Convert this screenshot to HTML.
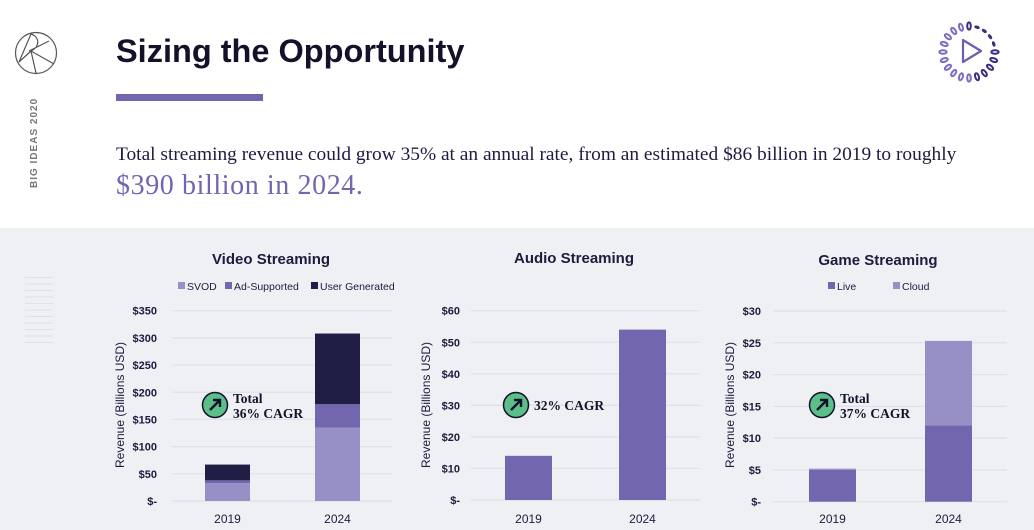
<!DOCTYPE html>
<html><head><meta charset="utf-8"><style>
body{margin:0;width:1034px;height:530px;overflow:hidden;background:#fff;font-family:"Liberation Sans",sans-serif;position:relative}
.a{position:absolute}
</style></head><body>
<div class="a" style="left:0;top:0;width:1034px;height:228px;background:#fff"></div>
<div class="a" style="left:0;top:228px;width:1034px;height:302px;background:#eff0f4"></div>
<svg class="a" style="left:14px;top:31px" width="46" height="46" viewBox="0 0 46 46"><g fill="none" stroke="#555" stroke-width="1.2"><circle cx="22" cy="22" r="20.5"/><path d="M5 31 L17 3 M17 3 C26 6 26 16 17 20 L40 33 M17 20 L22 42 M17 20 L5 31 M15 20 L35 10"/></g></svg>
<div class="a" style="left:29px;top:188px;transform:rotate(-90deg);transform-origin:0 0;font-size:10px;font-weight:bold;letter-spacing:1px;color:#777">BIG IDEAS 2020</div>
<div class="a" style="left:116px;top:33px;font-size:32.5px;font-weight:bold;color:#14122a">Sizing the Opportunity</div>
<div class="a" style="left:116px;top:94px;width:147px;height:7px;background:#7266ae"></div>
<div class="a" style="left:116px;top:144px;font-family:'Liberation Serif',serif;font-size:19.4px;color:#1e1b3f">Total streaming revenue could grow 35% at an annual rate, from an estimated $86 billion in 2019 to roughly</div>
<div class="a" style="left:116px;top:170px;font-family:'Liberation Serif',serif;font-size:28px;letter-spacing:0.6px;color:#7266ae">$390 billion in 2024.</div>
<svg class="a" style="left:937px;top:20px" width="64" height="64" viewBox="0 0 64 64"><g fill="none" stroke-width="2" id="ring"></g><path d="M26 20 L44 31 L26 42 Z" fill="none" stroke="#6a5fb0" stroke-width="2.2" stroke-linejoin="round"/></svg>
<div class="a" style="left:25px;top:277px;width:28px;height:66px;background:repeating-linear-gradient(#dfe0e6 0 1px,transparent 1px 6.5px)"></div>
<svg id="charts" class="a" style="left:0;top:0" width="1034" height="530"></svg>
<script>
const ring=document.getElementById('ring');
for(let i=0;i<20;i++){const a=-Math.PI/2+i*2*Math.PI/20;const cx=32+26*Math.cos(a),cy=32+26*Math.sin(a);
 const e=document.createElementNS('http://www.w3.org/2000/svg','ellipse');
 e.setAttribute('cx',cx);e.setAttribute('cy',cy);e.setAttribute('rx',i>=1&&i<=4?0.6:3.6);e.setAttribute('ry',1.8);
 e.setAttribute('transform','rotate('+(a*180/Math.PI)+' '+cx+' '+cy+')');
 e.setAttribute('stroke',i<10?'#3a2f80':'#7a6fc0');ring.appendChild(e);}

const years=['2019','2024'];
const videoSVOD=[33,135];
const videoAd=[5,43];
const videoUG=[29,130];
const videoTicks=['$-','$50','$100','$150','$200','$250','$300','$350'];
const audioValues=[14,54];
const audioTicks=['$-','$10','$20','$30','$40','$50','$60'];
const gameLive=[5,12];
const gameCloud=[0.2,13.3];
const gameTicks=['$-','$5','$10','$15','$20','$25','$30'];

const NS='http://www.w3.org/2000/svg',svg=document.getElementById('charts');
function el(t,at,txt){const e=document.createElementNS(NS,t);for(const k in at)e.setAttribute(k,at[k]);if(txt!==undefined)e.textContent=txt;svg.appendChild(e);return e;}
function chart(o){
 const y=v=>o.y0-(v/o.max)*(o.y0-o.y1);
 const step=o.max/(o.ticks.length-1);
 o.ticks.forEach((t,i)=>{const yy=y(i*step);
  const g=el('line',{x1:o.gx1,x2:o.gx2,y1:yy,y2:yy,stroke:'#dfe0e8','stroke-width':1.2});
  
  const l=el('text',{x:o.tx,y:yy+4,'text-anchor':'end','font-size':11,'font-weight':'bold',fill:'#1e1b3f'},t);
  });
 years.forEach((yr,i)=>{let base=0;
  o.series.forEach(s=>{const v=s.vals[i];
   const r=el('rect',{x:o.bx[i],y:y(base+v),width:o.bw,height:y(base)-y(base+v),fill:s.color});
   base+=v;});
  const xl=el('text',{x:o.bx[i]+o.bw/2,y:523,'text-anchor':'middle','font-size':12,fill:'#1e1b3f'},yr);
  });
 const yt=el('text',{x:0,y:0,transform:'translate('+o.ax+',405) rotate(-90)','text-anchor':'middle','font-size':12,fill:'#1e1b3f'},'Revenue (Billions USD)');
 
 const tt=el('text',{x:o.cx,y:o.ty,'text-anchor':'middle','font-size':15,'font-weight':'bold',fill:'#1e1b3f'},o.title);
 
 const c=el('circle',{cx:o.bdx,cy:o.bdy,r:12.5,fill:'#5bbf8a',stroke:'#14122a','stroke-width':1.5});
 
 el('path',{d:`M${o.bdx-5} ${o.bdy+5} L${o.bdx+5} ${o.bdy-5} M${o.bdx-2} ${o.bdy-5} L${o.bdx+5} ${o.bdy-5} L${o.bdx+5} ${o.bdy+2}`,stroke:'#14122a','stroke-width':2.4,fill:'none'});
 o.cagr.forEach((t,i)=>{const e=el('text',{x:o.bdx+18,y:o.bdy+(o.cagr.length>1?(i?13:-2):5),'font-family':'Liberation Serif, serif','font-size':13.5,'font-weight':'bold',fill:'#14122a'},t);
  });
 (o.legend||[]).forEach(lg=>{const r=el('rect',{x:lg.x,y:282,width:7,height:7,fill:lg.color});
  
  const t=el('text',{x:lg.x+9,y:290,'font-size':10.5,fill:'#1e1b3f'},lg.text);
  });
}
chart({title:'Video Streaming',cx:271,ty:264,max:350,ticks:videoTicks,y0:501,y1:310.7,gx1:172,gx2:392,tx:157,ax:124,bx:[205,315],bw:45,
 series:[{name:'svod',vals:videoSVOD,color:'#9690c6'},{name:'ad-supported',vals:videoAd,color:'#7266ae'},{name:'user-generated',vals:videoUG,color:'#211e45'}],
 bdx:215,bdy:405,cagr:['Total','36% CAGR'],
 legend:[{x:178,color:'#9690c6',text:'SVOD'},{x:225,color:'#7266ae',text:'Ad-Supported'},{x:311,color:'#211e45',text:'User Generated'}]});
chart({title:'Audio Streaming',cx:574,ty:263,max:60,ticks:audioTicks,y0:500,y1:310.7,gx1:471,gx2:700,tx:460,ax:430,bx:[505,619],bw:47,
 series:[{name:'audio',vals:audioValues,color:'#7266ae'}],bdx:516,bdy:405,cagr:['32% CAGR']});
chart({title:'Game Streaming',cx:878,ty:265,max:30,ticks:gameTicks,y0:501.7,y1:311,gx1:773,gx2:1007,tx:761,ax:734,bx:[809,925],bw:47,
 series:[{name:'live',vals:gameLive,color:'#7266ae'},{name:'cloud',vals:gameCloud,color:'#9690c6'}],bdx:822,bdy:405,cagr:['Total','37% CAGR'],
 legend:[{x:828,color:'#7266ae',text:'Live'},{x:893,color:'#9690c6',text:'Cloud'}]});
</script>
</body></html>
